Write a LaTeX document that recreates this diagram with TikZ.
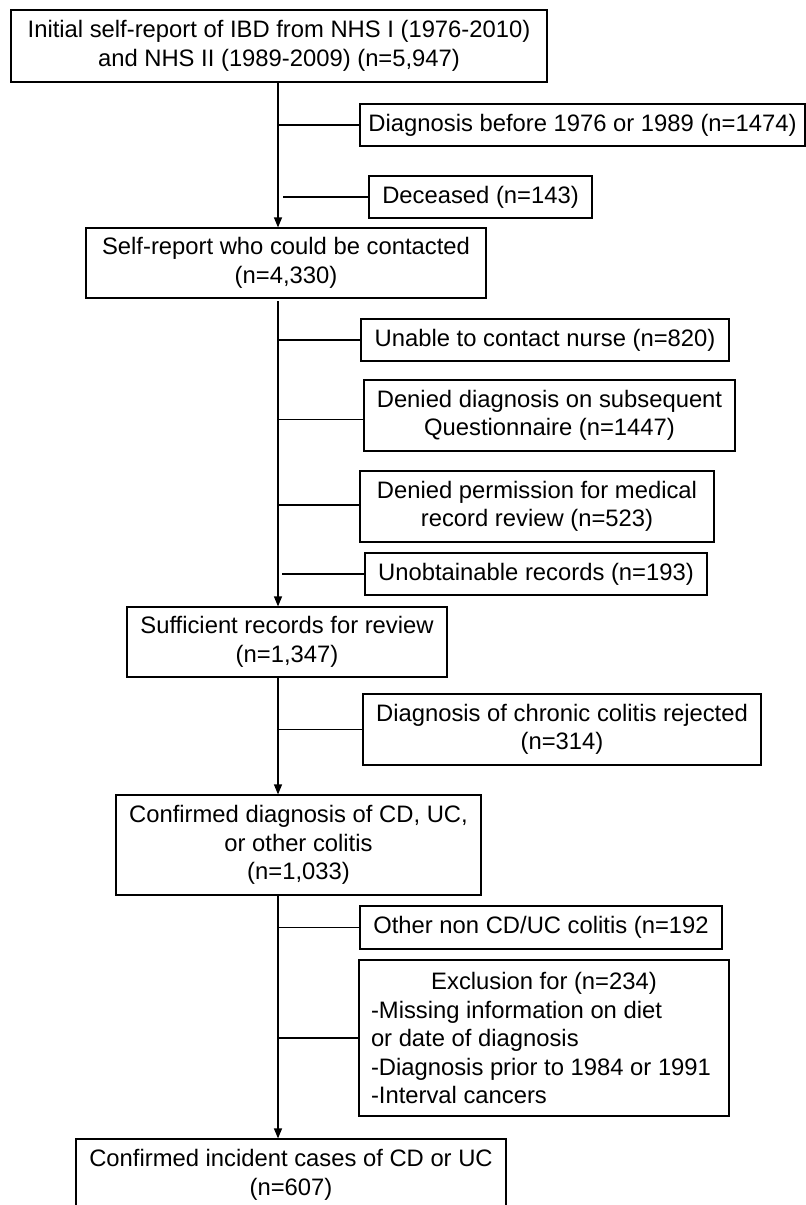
\documentclass[tikz,border=0pt]{standalone}
\usepackage{fontspec}
\setmainfont{Liberation Sans}
\usetikzlibrary{arrows.meta}
\begin{document}
\begin{tikzpicture}[x=1pt,y=-1pt,
  box/.style={draw=black, line width=1.2pt, inner sep=0pt, align=center,
    font=\fontsize{23.8}{28.5}\selectfont},
  link/.style={draw=black, line width=1.2pt},
  flow/.style={link, -{Triangle[length=10pt,width=8pt]}}]
\path[use as bounding box] (0,0) rectangle (806,1205);
\clip (0,0) rectangle (806,1205);
\fill[white] (0,0) rectangle (806,1205);

\node[box, minimum width=536, minimum height=72] (b1) at (279,46)
  {Initial self-report of IBD from NHS I (1976-2010)\\and NHS II (1989-2009) (n=5,947)};
\node[box, minimum width=445, minimum height=42] (b2) at (582.5,125)
  {Diagnosis before 1976 or 1989 (n=1474)};
\node[box, minimum width=223, minimum height=42] (b3) at (480.5,197)
  {Deceased (n=143)};
\node[box, minimum width=400, minimum height=70] (b4) at (286,263)
  {Self-report who could be contacted\\(n=4,330)};
\node[box, minimum width=368, minimum height=42] (b5) at (545,340)
  {Unable to contact nurse (n=820)};
\node[box, minimum width=371, minimum height=71] (b6) at (549.5,415.5)
  {Denied diagnosis on subsequent\\Questionnaire (n=1447)};
\node[box, minimum width=354, minimum height=71] (b7) at (537,506.5)
  {Denied permission for medical\\record review (n=523)};
\node[box, minimum width=342, minimum height=42] (b8) at (536,574)
  {Unobtainable records (n=193)};
\node[box, minimum width=320, minimum height=70] (b9) at (287,642)
  {Sufficient records for review\\(n=1,347)};
\node[box, minimum width=398, minimum height=71] (b10) at (562,729.5)
  {Diagnosis of chronic colitis rejected\\(n=314)};
\node[box, minimum width=365, minimum height=100] (b11) at (298.5,845)
  {Confirmed diagnosis of CD, UC,\\or other colitis\\(n=1,033)};
\node[box, minimum width=362, minimum height=43] (b12) at (541,927.5)
  {Other non CD/UC colitis (n=192};
\node[box, minimum width=370, minimum height=156, align=left] (b13) at (544,1038)
  {\makebox[346pt][c]{Exclusion for (n=234)}\\-Missing information on diet\\or date of diagnosis\\-Diagnosis prior to 1984 or 1991\\-Interval cancers\hspace{0pt}\rule{0pt}{0pt}\makebox[0pt]{}};
\node[box, minimum width=430, minimum height=72] (b14) at (291,1175)
  {Confirmed incident cases of CD or UC\\(n=607)};

% trunk coordinates
\coordinate (t1) at (278,82);
\coordinate (t2) at (278,301);
\coordinate (t3) at (278,677);
\coordinate (t4) at (278,895);

\draw[flow] (t1) -- (t1 |- b4.north);
\draw[flow] (t2) -- (t2 |- b9.north);
\draw[flow] (t3) -- (t3 |- b11.north);
\draw[flow] (t4) -- (t4 |- b14.north);

\draw[link] (b2.west) -- (b2.west -| t1);
\draw[link] (b3.west) -- ([xshift=5pt]b3.west -| t1);
\draw[link] (b5.west) -- (b5.west -| t2);
\draw[link] ([yshift=-4pt]b6.west) -- ([yshift=-4pt]b6.west -| t2);
\draw[link] ([yshift=1.5pt]b7.west) -- ([yshift=1.5pt]b7.west -| t2);
\draw[link] (b8.west) -- ([xshift=4pt]b8.west -| t2);
\draw[link] (b10.west) -- (b10.west -| t3);
\draw[link] (b12.west) -- (b12.west -| t4);
\draw[link] (b13.west) -- (b13.west -| t4);
\end{tikzpicture}
\end{document}
